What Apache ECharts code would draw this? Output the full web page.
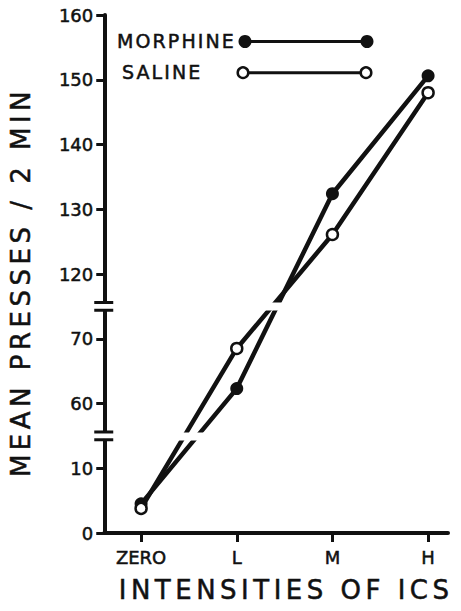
<!DOCTYPE html>
<html><head><meta charset="utf-8">
<script src="https://cdn.jsdelivr.net/npm/echarts@6/dist/echarts.min.js"></script>
<style>
html,body{margin:0;padding:0;background:#fff}
#c{width:461px;height:611px}
#c text[style*="26px"]{letter-spacing:4.5px}
#c text[style*="19px"]{letter-spacing:2.1px}
</style></head><body><div id="c"></div>
<script>
const categories = ['ZERO', 'L', 'M', 'H'];
const morphine = [4.5, 62.3, 132.4, 150.6];
const saline = [3.8, 68.5, 126.1, 148.0];
const yTicks = [0, 10, 60, 70, 120, 130, 140, 150, 160];
const yBreaks = [[14.4, 55.6], [74.4, 115.6]];
const seriesNames = ['MORPHINE', 'SALINE'];
const xTitle = 'INTENSITIES OF ICS';
const yTitle = 'MEAN PRESSES / 2 MIN';

const FONT = "'DejaVu Sans', sans-serif";
const INK = '#111';
const xIdx = categories.map((c, i) => i);
const heavy = {textBorderColor: INK, textBorderWidth: 0.5};

const chart = echarts.init(document.getElementById('c'), null, {renderer: 'svg'});
const option = {
  backgroundColor: '#fff',
  animation: false,
  grid: {left: 104, right: 13, top: 15, bottom: 78, containLabel: false},
  xAxis: {
    type: 'value', min: -0.385, max: 3.208,
    name: xTitle, nameLocation: 'middle', nameGap: 44,
    nameTextStyle: Object.assign({fontFamily: FONT, fontSize: 26, color: INK, padding: [0, 0, 0, 20]}, heavy),
    axisLine: {show: true, onZero: false, lineStyle: {color: INK, width: 4}},
    axisTick: {show: true, customValues: xIdx, length: 9, lineStyle: {color: INK, width: 3}},
    axisLabel: Object.assign({customValues: xIdx, margin: 15, fontFamily: FONT, fontSize: 18, color: INK,
      formatter: v => categories[Math.round(v)] ?? ''}, heavy),
    splitLine: {show: false}
  },
  yAxis: {
    type: 'value', min: 0, max: 160, interval: 10,
    breaks: yBreaks.map(b => ({start: b[0], end: b[1], gap: 1.2})),
    breakArea: {show: true, expandOnClick: false, zigzagAmplitude: 0,
      itemStyle: {color: '#fff', borderWidth: 0, opacity: 1}},
    name: yTitle, nameLocation: 'middle', nameRotate: 90, nameGap: 70,
    nameTextStyle: Object.assign({fontFamily: FONT, fontSize: 26, color: INK, padding: [0, 16, 0, 0]}, heavy),
    axisLine: {show: true, onZero: false, lineStyle: {color: INK, width: 4}},
    axisTick: {show: true, customValues: yTicks, length: 8, lineStyle: {color: INK, width: 3}},
    axisLabel: Object.assign({customValues: yTicks, margin: 11, fontFamily: FONT, fontSize: 18, color: INK}, heavy),
    splitLine: {show: false}
  },
  series: [
    {name: seriesNames[0], type: 'line', data: xIdx.map(i => [i, morphine[i]]),
      symbol: 'circle', symbolSize: 13, lineStyle: {color: INK, width: 4.5},
      itemStyle: {color: INK, borderColor: INK, borderWidth: 0}, z: 3},
    {name: seriesNames[1], type: 'line', data: xIdx.map(i => [i, saline[i]]),
      symbol: 'circle', symbolSize: 11, lineStyle: {color: INK, width: 4.5},
      itemStyle: {color: '#fff', borderColor: INK, borderWidth: 2.5}, z: 4}
  ]
};
chart.setOption(option);

// decorations: break marks on the axis & legend
const axX = chart.convertToPixel({xAxisIndex: 0}, -0.385);
const g = [];
yBreaks.forEach(b => {
  const y1 = chart.convertToPixel({yAxisIndex: 0}, b[0]);
  const y2 = chart.convertToPixel({yAxisIndex: 0}, b[1]);
  g.push({type: 'rect', shape: {x: axX - 4, y: Math.min(y1, y2) + 1, width: 8, height: Math.abs(y1 - y2) - 2},
    style: {fill: '#fff'}, z: 200});
  [y1, y2].forEach(y => g.push({type: 'line', shape: {x1: axX - 10, y1: y, x2: axX + 9, y2: y},
    style: {stroke: INK, lineWidth: 3}, z: 201}));
});
// legend
const leg = [
  {name: seriesNames[0], tx: 117, y: 41.5, x1: 245, x2: 367, fill: INK, r: 6.5, lw: 0},
  {name: seriesNames[1], tx: 122, y: 72.7, x1: 243, x2: 366, fill: '#fff', r: 5.3, lw: 2.5}
];
leg.forEach(l => {
  g.push({type: 'text', x: l.tx, y: l.y - 1, style: {text: l.name, font: '19px ' + FONT, fill: INK,
    stroke: INK, lineWidth: 0.5, textAlign: 'left', textVerticalAlign: 'middle'}, z: 210});
  g.push({type: 'line', shape: {x1: l.x1, y1: l.y, x2: l.x2, y2: l.y}, style: {stroke: INK, lineWidth: 3}, z: 210});
  [l.x1, l.x2].forEach(x => g.push({type: 'circle', shape: {cx: x, cy: l.y, r: l.r},
    style: {fill: l.fill, stroke: INK, lineWidth: l.lw}, z: 211}));
});
chart.setOption({graphic: g});
</script></body></html>
